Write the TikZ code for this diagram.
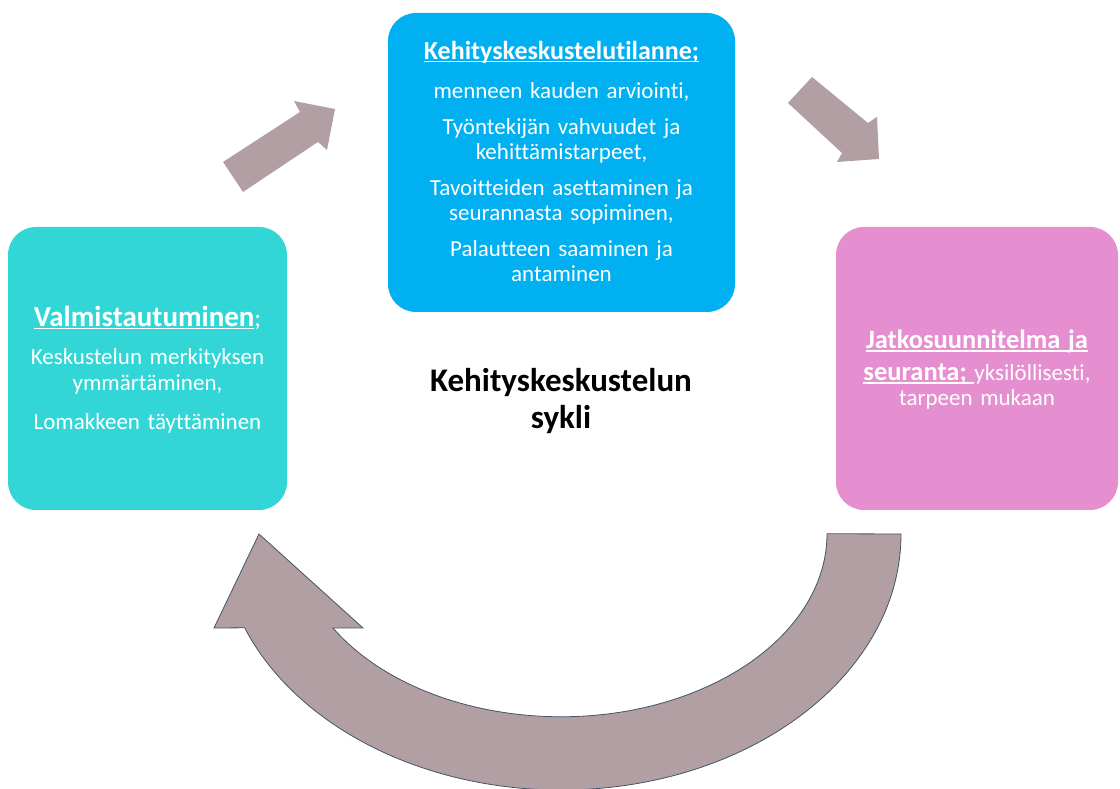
\documentclass[tikz,border=0pt]{standalone}
\usepackage{fontspec}
\setmainfont{Carlito}[Ligatures={NoCommon}, WordSpace=0.8]
\newsavebox{\ulbox}
\newcommand{\myul}[1]{\sbox{\ulbox}{#1}\rlap{\usebox{\ulbox}}\rule[-3pt]{\wd\ulbox}{1.5pt}}
\definecolor{tealbox}{RGB}{51,214,214}
\definecolor{bluebox}{RGB}{0,176,240}
\definecolor{pinkbox}{RGB}{230,143,208}
\definecolor{arrowfill}{RGB}{177,159,163}
\definecolor{arrowline}{RGB}{68,84,106}
\tikzset{
  box/.style={rounded corners=28pt, inner sep=0pt, draw=none},
  boxtext/.style={inner sep=0pt, align=center, text=white,
    font=\fontsize{23}{25}\selectfont},
  blockarrow/.style={fill=arrowfill, draw=none},
  curvedarrow/.style={fill=arrowfill, draw=arrowline, line width=0.8pt, line join=miter},
}
\begin{document}
\begin{tikzpicture}[x=1pt,y=1pt]
\useasboundingbox (0,0) rectangle (1120,789);

% boxes
\node[box, fill=tealbox, minimum width=279pt, minimum height=283pt] (prep) at (147.5,420.5) {};
\node[box, fill=bluebox, minimum width=347pt, minimum height=299pt] (talk) at (561.5,626.5) {};
\node[box, fill=pinkbox, minimum width=282pt, minimum height=283pt] (follow) at (977,420.5) {};

% box texts
\node[boxtext, text width=275pt, font=\fontsize{23}{26}\selectfont] (preptext) at ([yshift=-1pt]prep.center)
  {{\fontsize{29}{30}\selectfont\textbf{\myul{Valmistautuminen}}\fontsize{25}{30}\selectfont;}\\[12pt]
   Keskustelun merkityksen\\ ymmärtäminen,\\[13pt]
   Lomakkeen täyttäminen};

\node[boxtext, text width=340pt] (talktext) at ([yshift=1.5pt]talk.center)
  {{\fontsize{26}{25}\selectfont\textbf{\myul{Kehityskeskustelutilanne;}}}\\[14pt]
   menneen kauden arviointi,\\[11pt]
   Työntekijän vahvuudet ja\\ kehittämistarpeet,\\[11pt]
   Tavoitteiden asettaminen ja\\ seurannasta sopiminen,\\[11pt]
   Palautteen saaminen ja\\ antaminen};

\node[boxtext, text width=280pt] (followtext) at ([yshift=-1.5pt]follow.center)
  {{\fontsize{26.5}{25}\selectfont\textbf{\myul{Jatkosuunnitelma ja}}}\\[7pt]
   {\fontsize{26.5}{25}\selectfont\textbf{\myul{seuranta;\ }}}yksilöllisesti,\\
   tarpeen mukaan};

\node[font=\fontsize{33}{37}\selectfont\bfseries, align=center, text=black]
  (cycle) at (561,387.5) {Kehityskeskustelun\\sykli};

% block arrows between the boxes
\fill[blockarrow] (223,627) -- (300,677) -- (294,688) -- (335,680) -- (327,639)
  -- (318,647) -- (243,597) -- cycle;
\fill[blockarrow] (812,712) -- (868,666) -- (877,672) -- (879,630) -- (837,627)
  -- (842,636) -- (788,686) -- cycle;

% curved return arrow
\filldraw[curvedarrow] (901,255)
  arc[start angle=0, end angle=-158.5, x radius=340, y radius=256]
  -- (214,161) -- (259,255) -- (363,161) -- (333,161)
  arc[start angle=-149, end angle=0, x radius=266, y radius=183]
  -- cycle;
\end{tikzpicture}
\end{document}
